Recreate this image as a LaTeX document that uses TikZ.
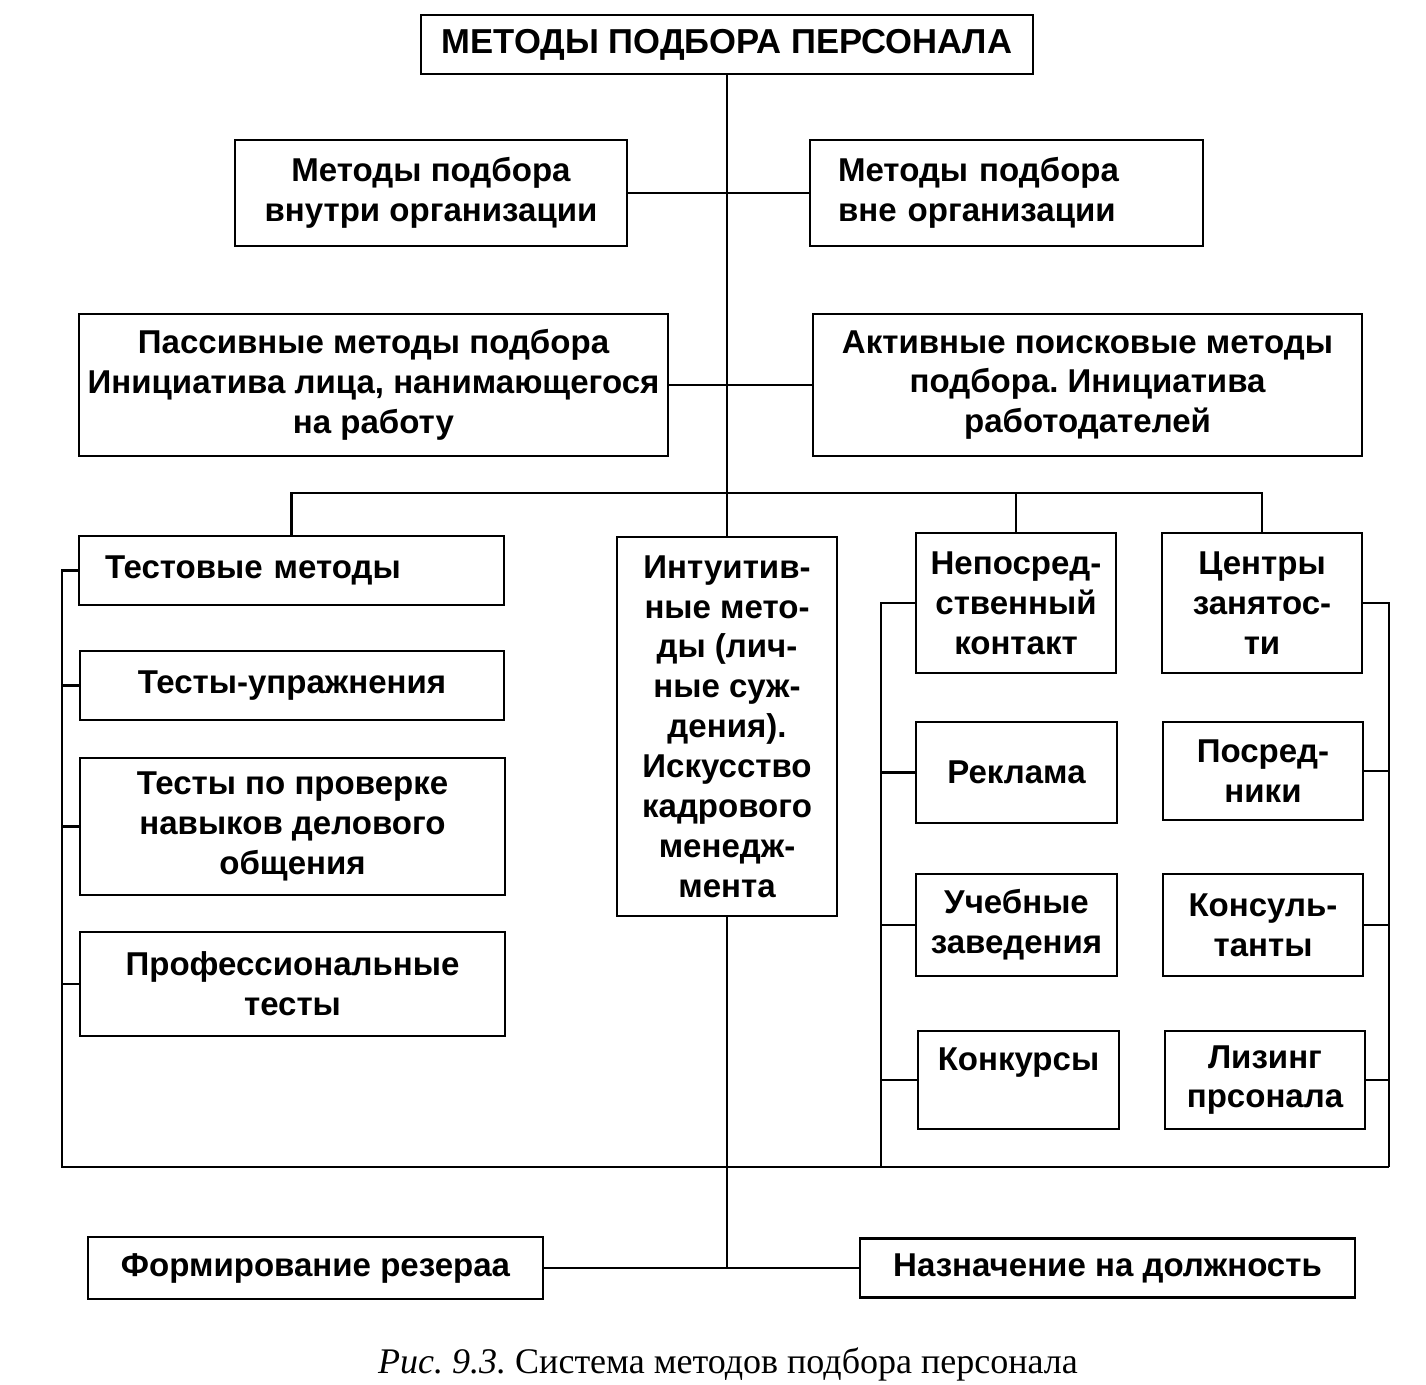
\documentclass[tikz,border=0pt]{standalone}
\usepackage{fontspec}
\setmainfont{Liberation Sans}
\newfontfamily\capfont{Liberation Serif}
\usetikzlibrary{positioning}
\frenchspacing
\tikzstyle{block} = [rectangle, draw=black, line width=1.5pt, inner sep=2pt, align=center, font=\bfseries\fontsize{18.8}{22.7}\selectfont]
\tikzstyle{line} = [line width=1.3pt]
\tikzstyle{trunk} = [line width=0.9pt]

\begin{document}
\begin{tikzpicture}[x=0.02cm, y=-0.02cm]
\useasboundingbox (0,0) rectangle (1426,1384);
% upper levels
\node (top) [block, font=\bfseries\fontsize{19.7}{24}\selectfont, minimum width=12.24cm, minimum height=1.18cm] at (727,44.5) {МЕТОДЫ ПОДБОРА ПЕРСОНАЛА};
\node (inner) [block, minimum width=7.84cm, minimum height=2.12cm] at (431,193) {Методы подбора\\внутри организации};
\node (outer) [block, align=left, text width=6.74cm, inner xsep=0.56cm, minimum height=2.12cm] at (1006.5,193) {Методы подбора\\вне организации};
\node (passive) [block, minimum width=11.78cm, minimum height=2.84cm] at (373.5,385) {Пассивные методы подбора\\Инициатива лица, нанимающегося\\на работу};
\node (active) [block, minimum width=10.98cm, minimum height=2.84cm] at (1087.5,385) {Активные поисковые методы\\подбора. Инициатива\\работодателей};
% left column
\node (test) [block, align=left, text width=7.46cm, inner xsep=0.52cm, minimum height=1.38cm] at (291.5,570.5) {Тестовые методы};
\node (exer) [block, minimum width=8.48cm, minimum height=1.38cm] at (292,685.5) {Тесты-упражнения};
\node (busi) [block, minimum width=8.5cm, minimum height=2.74cm] at (292.5,826.5) {Тесты по проверке\\навыков делового\\общения};
\node (prof) [block, minimum width=8.5cm, minimum height=2.08cm] at (292.5,984) {Профессиональные\\тесты};
% middle
\node (intuit) [block, minimum width=4.4cm, minimum height=7.58cm] at (727,726.5) {Интуитив-\\ные мето-\\ды (лич-\\ные суж-\\дения).\\Искусство\\кадрового\\менедж-\\мента};
% right columns
\node (direct) [block, minimum width=4cm, minimum height=2.8cm] at (1016,603) {Непосред-\\ственный\\контакт};
\node (advert) [block, minimum width=4.02cm, minimum height=2.02cm] at (1016.5,772.5) {Реклама};
\node (edu) [block, minimum width=4.02cm, minimum height=2.04cm] at (1016.5,925) {Учебные\\заведения};
\node (contest) [block, minimum width=4.02cm, minimum height=1.96cm] at (1018.5,1080) {Конкурсы\\[-6pt] \strut};
\node (centers) [block, minimum width=4cm, minimum height=2.8cm] at (1262,603) {Центры\\занятос-\\ти};
\node (agents) [block, minimum width=4cm, minimum height=1.96cm] at (1263,771) {Посред-\\ники};
\node (consult) [block, minimum width=4cm, minimum height=2.04cm] at (1263,925) {Консуль-\\танты};
\node (leasing) [block, minimum width=4cm, minimum height=1.96cm] at (1265,1080) {Лизинг\\прсонала};
% bottom
\node (reserve) [block, minimum width=9.1cm, minimum height=1.24cm] at (315.5,1268) {Формирование резераа};
\node (appoint) [block, minimum width=9.9cm, minimum height=1.18cm] at (1107.5,1268) {Назначение на должность};
\node (caption) [font=\capfont\fontsize{20.5}{24}\selectfont] at (728,1364) {\textit{Рис. 9.3.} Система методов подбора персонала};

\coordinate (bus) at (727,493);
\coordinate (leftbot) at (62,1167);
\coordinate (midbot) at (881,1167);
\coordinate (rightbot) at (1389,1167);

\draw [trunk] (top) -- (intuit);
\draw [trunk] (intuit) |- (appoint);
\draw [line] (inner) -- (outer);
\draw [line] (passive) -- (active);
\draw [line] (reserve) -- (appoint);
\draw [line] (test.north) |- (bus) -| (centers.north);
\draw [line] (bus -| direct.north) -- (direct.north);
\draw [line] (test.west) -| (leftbot) -- (rightbot);
\draw [line] (direct.west) -| (midbot);
\draw [line] (centers.east) -| (rightbot);
\foreach \n in {exer, busi, prof}
  \draw [line] (\n.west) -- (\n.west -| leftbot);
\foreach \n in {advert, edu, contest}
  \draw [line] (\n.west) -- (\n.west -| midbot);
\foreach \n in {agents, consult, leasing}
  \draw [line] (\n.east) -- (\n.east -| rightbot);
\end{tikzpicture}
\end{document}
